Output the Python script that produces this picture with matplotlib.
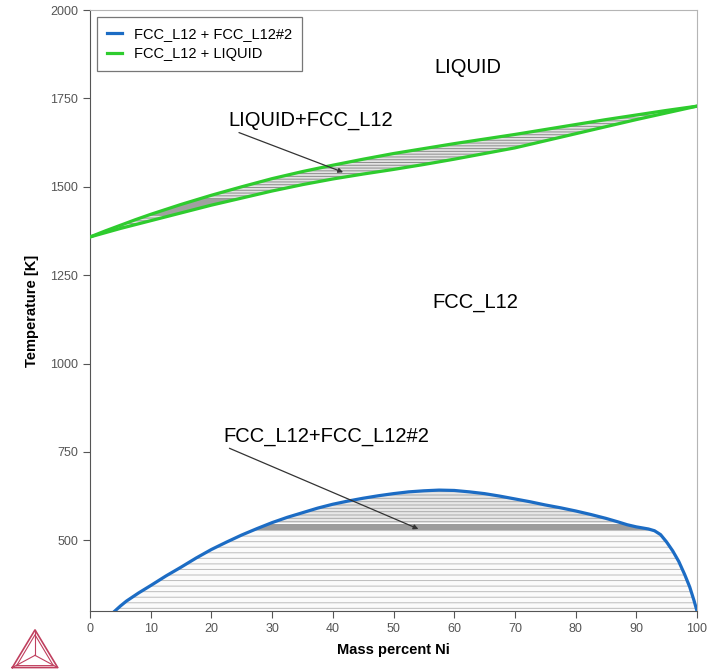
import matplotlib.pyplot as plt
import numpy as np

plt.rcParams['font.family'] = ['Liberation Sans', 'DejaVu Sans']
plt.rcParams['hatch.linewidth'] = 0.7

# liquidus / solidus (mass percent Ni, K)
liq_x = [0, 2.5, 5, 7.5, 10, 15, 20, 25, 30, 35, 40, 45, 50, 55, 60, 65, 70, 75, 80, 85, 90, 95, 100]
liq_T = [1358, 1375, 1391, 1407, 1422, 1450, 1476, 1500, 1523, 1543, 1561, 1578, 1594,
         1608, 1622, 1635, 1648, 1662, 1676, 1690, 1703, 1716, 1728]
sol_x = [0, 2.5, 5, 7.5, 10, 15, 20, 25, 30, 35, 40, 45, 50, 55, 60, 65, 70, 75, 80, 85, 90, 95, 100]
sol_T = [1358, 1370, 1382, 1393, 1404, 1426, 1448, 1468, 1488, 1506, 1522, 1536, 1549,
         1563, 1578, 1594, 1610, 1630, 1650, 1670, 1690, 1709, 1728]

# miscibility gap FCC_L12 + FCC_L12#2
gap_x = [4.1, 5, 6, 8, 10, 12.5, 15, 17.5, 20, 22.5, 25, 27.5, 30, 32.5, 35, 37.5, 40,
         42.5, 45, 47.5, 50, 52.5, 55, 57.5, 60, 62.5, 65, 67.5, 70, 72.5, 75, 77.5, 80,
         82.5, 85, 87, 88.5, 90, 91, 92, 93, 94, 95, 96, 97, 98, 98.8, 99.5, 100]
gap_T = [300, 314, 328, 351, 372, 399, 424, 450, 474, 495, 515, 533, 550, 565, 578, 591,
         602, 611, 619, 626, 632, 637, 640, 642, 641, 637, 632, 625, 617, 609, 600, 592,
         583, 573, 562, 552, 544, 538, 535, 532, 527, 516, 495, 470, 440, 402, 368, 330, 300]

fig = plt.figure(figsize=(7.07, 6.71), dpi=100)
ax = fig.add_axes([90 / 707, 1 - 611 / 671, 607 / 707, 601 / 671])

blue = '#1c6cc4'
green = '#2ecc2e'

# two-phase liquid band with tie lines
band = ax.fill(liq_x + sol_x[::-1], liq_T + sol_T[::-1], facecolor='#e2e2e2',
               edgecolor='#8e8e8e', hatch='-' * 6, linewidth=0, zorder=1)[0]
dark = ax.axhspan(1420, 1465, color='#a0a0a0', lw=0, zorder=1.5)
dark.set_clip_path(band)

# miscibility gap with tie lines
dome = ax.fill(gap_x, gap_T, facecolor='#fbfbfb', edgecolor='#bcbcbc',
               hatch='-' * 3, linewidth=0, zorder=1)[0]
upper = ax.axhspan(548, 650, facecolor='#e8e8e8', edgecolor='#aaaaaa',
                   hatch='-' * 5, lw=0, zorder=1.5)
upper.set_clip_path(dome)
dband = ax.axhspan(530, 547, color='#9c9c9c', lw=0, zorder=1.6)
dband.set_clip_path(dome)

ax.plot(gap_x, gap_T, color=blue, lw=2.3, label='FCC_L12 + FCC_L12#2', zorder=3)
ax.plot(liq_x, liq_T, color=green, lw=2.3, label='FCC_L12 + LIQUID', zorder=3)
ax.plot(sol_x, sol_T, color=green, lw=2.3, zorder=3)

ax.set_xlim(0, 100)
ax.set_ylim(300, 2000)
ax.set_xticks(np.arange(0, 101, 10))
ax.set_yticks([500, 750, 1000, 1250, 1500, 1750, 2000])
ax.tick_params(direction='out', length=5, width=0.8, labelsize=9,
               labelcolor='#555555', color='#555555')
for s in ['left', 'bottom']:
    ax.spines[s].set_color('#555555')
for s in ['top', 'right']:
    ax.spines[s].set_color('#b5b5b5')

ax.set_xlabel('Mass percent Ni', fontsize=10.5, fontweight='bold', labelpad=6)
ax.set_ylabel('Temperature [K]', fontsize=10.5, fontweight='bold', labelpad=8)

ax.text(62.2, 1838, 'LIQUID', fontsize=14.5, ha='center', va='center')
ax.text(63.5, 1172, 'FCC_L12', fontsize=14.5, ha='center', va='center')
ax.annotate('LIQUID+FCC_L12', xy=(41.7, 1541), xytext=(22.8, 1688),
            fontsize=14.5, ha='left', va='center',
            arrowprops=dict(arrowstyle='-|>', color='#333333', lw=0.9,
                            mutation_scale=7, shrinkA=0, shrinkB=0,
                            relpos=(0.02, 0.0)))
ax.annotate('FCC_L12+FCC_L12#2', xy=(54.1, 532), xytext=(21.9, 795),
            fontsize=14.5, ha='left', va='center',
            arrowprops=dict(arrowstyle='-|>', color='#333333', lw=0.9,
                            mutation_scale=7, shrinkA=0, shrinkB=0,
                            relpos=(0.0, 0.0)))

leg = ax.legend(loc='upper left', fontsize=10.5, handlelength=1.0,
                borderpad=0.7, labelspacing=0.4, fancybox=False,
                bbox_to_anchor=(0.012, 0.988), borderaxespad=0)
leg.get_frame().set_edgecolor('#555555')
leg.get_frame().set_linewidth(0.9)

# Thermo-Calc style logo
lg = fig.add_axes([8 / 707, 1 - 670 / 671, 54 / 707, 44 / 671])
lg.set_xlim(0, 1)
lg.set_ylim(0, 0.9)
lg.axis('off')
c = '#c0405f'
lg.plot([0.08, 0.92, 0.5, 0.08], [0.05, 0.05, 0.82, 0.05], color=c, lw=1.2)
lg.plot([0.16, 0.84, 0.5, 0.16], [0.09, 0.09, 0.72, 0.09], color=c, lw=0.8)
for vx, vy in [(0.08, 0.05), (0.92, 0.05), (0.5, 0.82)]:
    lg.plot([vx, 0.5], [vy, 0.3], color=c, lw=0.8)

fig.savefig('out.png', dpi=100)
